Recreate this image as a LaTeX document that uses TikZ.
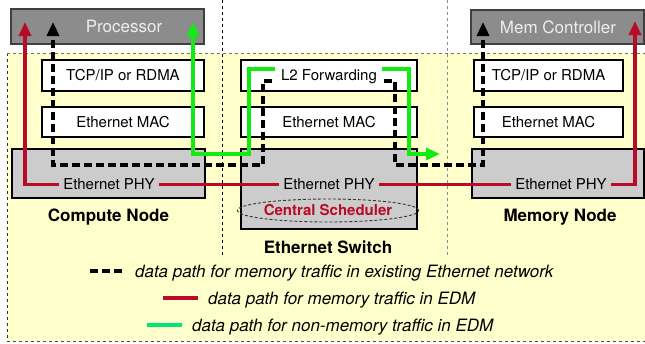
\documentclass[tikz,border=0pt]{standalone}
\usepackage{fontspec}
\setmainfont{TeX Gyre Heros}
\usetikzlibrary{arrows.meta,shapes.geometric}
\definecolor{bgyellow}{RGB}{255,255,204}
\definecolor{hostgray}{RGB}{140,140,140}
\definecolor{phygray}{RGB}{204,204,204}
\definecolor{edmred}{RGB}{185,10,40}
\definecolor{edmgreen}{RGB}{20,235,20}
\definecolor{keygreen}{RGB}{0,230,120}
\begin{document}
\begin{tikzpicture}[x=1pt,y=-1pt,
  txt/.style={font=\fontsize{15}{18}\selectfont,text height=10.8pt,text depth=0pt},
  bigtxt/.style={font=\fontsize{17}{20}\selectfont,text height=12.2pt,text depth=0pt},
  layerbox/.style={txt,draw=black,line width=1.3pt,fill=white,inner sep=0pt},
  hostbox/.style={draw=black!75,line width=1.5pt,fill=hostgray,inner sep=0pt},
  phybox/.style={draw=black,line width=1.3pt,fill=phygray,inner sep=0pt},
  phylabel/.style={txt,inner sep=0pt,inner xsep=4pt},
  hostlabel/.style={bigtxt,text=white!93!black,inner sep=0pt},
  nodelabel/.style={bigtxt,font=\fontsize{17}{20}\selectfont\bfseries,inner sep=0pt},
  keytext/.style={font=\fontsize{17}{20}\selectfont\itshape,text height=12.2pt,text depth=0pt,inner sep=0pt,anchor=west},
  tip/.style={-{Triangle[length=14pt,width=12pt]}},
  oldpath/.style={line width=3.3pt,black,dash pattern=on 8pt off 4pt},
  redpath/.style={line width=3.2pt,edmred},
  greenpath/.style={line width=3.2pt,edmgreen},
  sep/.style={line width=1pt,dash pattern=on 3pt off 3pt}
]
\useasboundingbox (0,0) rectangle (645,343);

% tinted area holding the three stacks
\fill[bgyellow] (7,53) rectangle (645,341);
\draw[sep,black!80] (7,53) -- (7,341);
\draw[sep,black!55] (7,53) -- (645,53);
\draw[sep,black!70] (7,341) -- (645,341);

% column separators
\draw[sep,black] (222,0) -- (222,258);
\draw[sep,black!45] (447,0) -- (447,258);

% compute node stack
\node[hostbox,minimum width=193pt,minimum height=35pt] (proc) at (107.5,26.5) {};
\node[hostlabel] (proct) at (124,26.5) {Processor};
\node[layerbox,minimum width=162pt,minimum height=31pt] (tcp1) at (123,75.5) {TCP/IP or RDMA};
\node[layerbox,minimum width=162pt,minimum height=30pt] (mac1) at (123,122) {Ethernet MAC};
\node[phybox,minimum width=193pt,minimum height=49pt] (phy1) at (108.5,173.5) {};
\node[nodelabel] (cn) at (108.5,215.5) {Compute Node};

% switch stack
\node[layerbox,minimum width=176pt,minimum height=31pt] (l2) at (329,75.5) {};
\node[txt,inner sep=0pt] (l2t) at (329,75.5) {L2 Forwarding};
\node[layerbox,minimum width=176pt,minimum height=30pt] (mac2) at (329,122) {Ethernet MAC};
\node[phybox,minimum width=176pt,minimum height=80pt] (phy2) at (329,189) {};
\node[ellipse,draw=black!80,line width=0.9pt,dash pattern=on 3pt off 2pt,
      minimum width=150pt,minimum height=23pt,inner sep=0pt,text=edmred,
      font=\fontsize{15}{18}\selectfont\bfseries] (sched) at (328,210.5) {Central Scheduler};
\node[nodelabel] (sw) at (328,247) {Ethernet Switch};

% memory node stack
\node[hostbox,minimum width=173pt,minimum height=34pt] (memc) at (557.5,27) {};
\node[hostlabel] (memct) at (558,27) {Mem Controller};
\node[layerbox,minimum width=149pt,minimum height=31pt] (tcp3) at (548.5,75.5) {TCP/IP or RDMA};
\node[layerbox,minimum width=149pt,minimum height=30pt] (mac3) at (548.5,122) {Ethernet MAC};
\node[phybox,minimum width=172pt,minimum height=49pt] (phy3) at (558,173.5) {};
\node[nodelabel] (mn) at (560,215.5) {Memory Node};

% PHY labels
\node[phylabel] (phyt1) at (109,184.5) {Ethernet PHY};
\node[phylabel] (phyt2) at (329,184.5) {Ethernet PHY};
\node[phylabel] (phyt3) at (561,184.5) {Ethernet PHY};

% existing Ethernet path
\coordinate (bk1) at (53,165);
\coordinate (bk2) at (263,165);
\coordinate (bk3) at (263,81);
\coordinate (bk4) at (272,81);
\coordinate (bk5) at (384,81);
\coordinate (bk6) at (395,81);
\coordinate (bk7) at (395,165);
\coordinate (bk8) at (483,165);
\coordinate (bkt1) at (53,22);
\coordinate (bkt2) at (483,22);
\draw[oldpath,tip] (bk4) -- (bk3) -- (bk2) -- (bk1) -- (bkt1);
\draw[oldpath,tip] (bk5) -- (bk6) -- (bk7) -- (bk8) -- (bkt2);

% EDM memory path
\coordinate (rd1) at (25,184.5);
\coordinate (rdt1) at (25,22);
\coordinate (rd2) at (635,184.5);
\coordinate (rdt2) at (635,21);
\draw[redpath,tip] (phyt1.west) -- (rd1) -- (rdt1);
\draw[redpath] (phyt1.east) -- (phyt2.west);
\draw[redpath] (phyt2.east) -- (phyt3.west);
\draw[redpath,tip] (phyt3.east) -- (rd2) -- (rdt2);

% EDM non-memory path
\coordinate (gt1) at (193,22);
\coordinate (g1) at (193,154);
\coordinate (g2) at (249,154);
\coordinate (g3) at (249,69);
\coordinate (g4) at (275,69);
\coordinate (g5) at (382,69);
\coordinate (g6) at (409,69);
\coordinate (g7) at (409,154);
\coordinate (gt2) at (440,154);
\draw[greenpath,tip] (g4) -- (g3) -- (g2) -- (g1) -- (gt1);
\draw[greenpath,tip] (g5) -- (g6) -- (g7) -- (gt2);

% key
\coordinate (ka1) at (90,271);
\coordinate (ka2) at (125,271);
\coordinate (kb1) at (163,298);
\coordinate (kb2) at (198,298);
\coordinate (kc1) at (147,325);
\coordinate (kc2) at (182,325);
\draw[oldpath] (ka1) -- (ka2);
\draw[redpath] (kb1) -- (kb2);
\draw[line width=3.2pt,keygreen] (kc1) -- (kc2);
\node[keytext] (kat) at (135,271.5) {data path for memory traffic in existing Ethernet network};
\node[keytext] (kbt) at (208,298.5) {data path for memory traffic in EDM};
\node[keytext] (kct) at (192,325) {data path for non-memory traffic in EDM};
\end{tikzpicture}
\end{document}
